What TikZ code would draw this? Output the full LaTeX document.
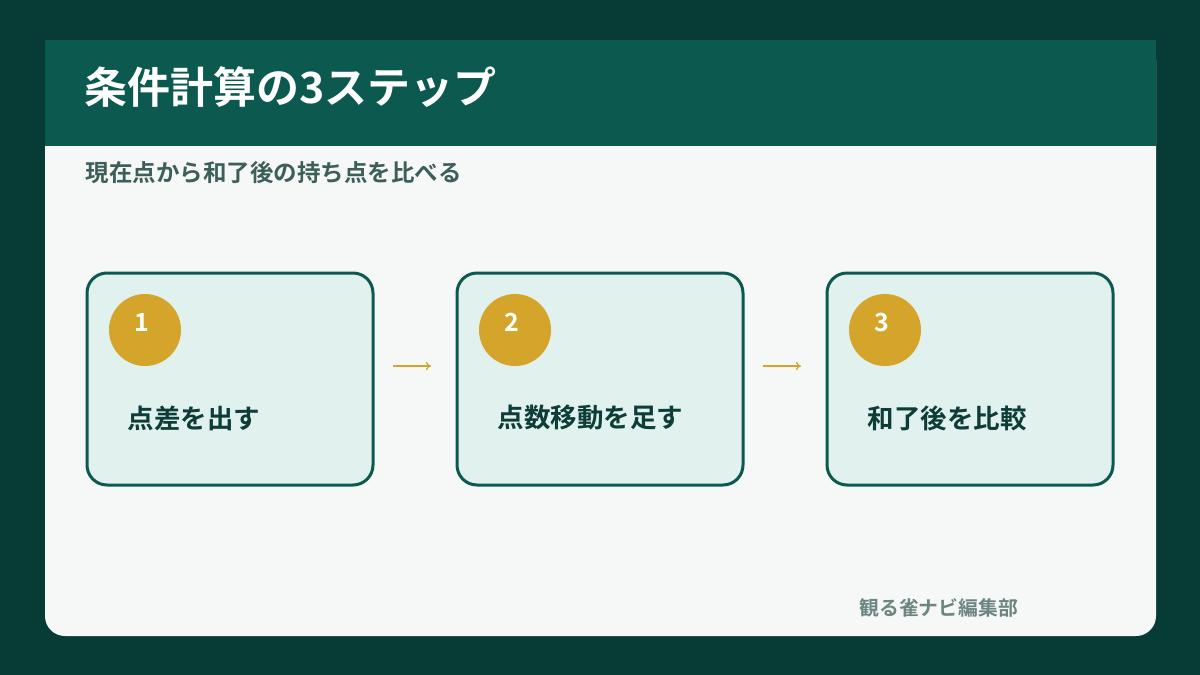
\documentclass[tikz,border=0pt]{standalone}
\usepackage{fontspec}
\usetikzlibrary{arrows.meta}
\setmainfont{Noto Sans CJK JP}[BoldFont={* Bold}]
\definecolor{bgd}{HTML}{073B35}
\definecolor{hdr}{HTML}{0C5950}
\definecolor{card}{HTML}{F6F8F8}
\definecolor{boxf}{HTML}{E1F1EE}
\definecolor{gold}{HTML}{D4A52A}
\definecolor{sub}{HTML}{3D5F5A}
\definecolor{lab}{HTML}{0D3D36}
\definecolor{foot}{HTML}{6B8581}
\begin{document}
\begin{tikzpicture}[x=1pt,y=-1pt,
 stepbox/.style={draw=hdr,line width=3pt,fill=boxf,rounded corners=20pt,minimum width=286pt,minimum height=212pt,inner sep=0pt},
 num/.style={circle,fill=gold,minimum size=72pt,inner sep=0pt},
 numt/.style={text=white,font=\fontsize{25}{25}\selectfont\bfseries},
 lab/.style={anchor=west,text=lab,font=\fontsize{26.5}{30}\selectfont\bfseries},
 arr/.style={draw=gold,line width=1.2pt,-{To[length=5pt,width=8pt]}}]
\fill[bgd] (0,0) rectangle (1200,675);
\useasboundingbox (0,0) rectangle (1200,675);
\fill[card,rounded corners=20pt] (45,40) rectangle (1156,636);
\fill[card] (45,40) rectangle (1156,200);
\fill[hdr] (45,40) rectangle (1156,146);
\node[anchor=west,text=white,font=\fontsize{43}{45}\selectfont\bfseries] (title) at (81,87) {条件計算の3ステップ};
\node[anchor=west,text=sub,font=\fontsize{23.5}{26}\selectfont\bfseries] (subt) at (82,173) {現在点から和了後の持ち点を比べる};
\foreach \i/\x/\t in {1/87/点差を出す,2/457/点数移動を足す,3/827/和了後を比較}{
 \node[stepbox,anchor=north west] (b\i) at (\x-1.5,271.5) {};
 \node[num] (c\i) at (\x+58,330) {};
 \node[numt] (n\i) at (\x+55,322) {\i};
 \node[lab] (l\i) at (\x+37,418) {\t};
}
\coordinate (a1s) at (393,366); \coordinate (a1e) at (431,366);
\coordinate (a2s) at (763,366); \coordinate (a2e) at (801,366);
\draw[arr] (a1s) -- (a1e);
\draw[arr] (a2s) -- (a2e);
\node[anchor=west,text=foot,font=\fontsize{19.8}{22}\selectfont\bfseries] (ft) at (856,608) {観る雀ナビ編集部};
\end{tikzpicture}
\end{document}
